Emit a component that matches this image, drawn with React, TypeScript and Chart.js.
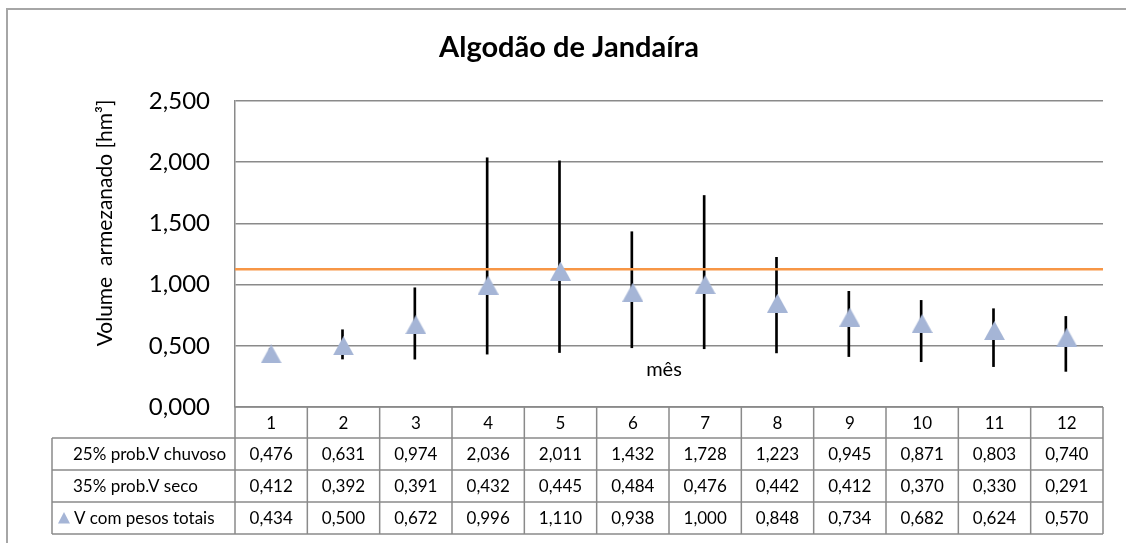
import React, { useEffect, useRef } from "react";
import { Chart, registerables } from "chart.js";

Chart.register(...registerables);

const chartTitle = "Algodão de Jandaíra";
const yAxisTitle = "Volume  armezanado [hm³]";
const xAxisTitle = "mês";
const months = ["1", "2", "3", "4", "5", "6", "7", "8", "9", "10", "11", "12"];
const chuvosoLabel = "25% prob.V chuvoso";
const secoLabel = "35% prob.V seco";
const pesosLabel = "V com pesos totais";
const chuvoso = [0.476, 0.631, 0.974, 2.036, 2.011, 1.432, 1.728, 1.223, 0.945, 0.871, 0.803, 0.74];
const seco = [0.412, 0.392, 0.391, 0.432, 0.445, 0.484, 0.476, 0.442, 0.412, 0.37, 0.33, 0.291];
const pesos = [0.434, 0.5, 0.672, 0.996, 1.11, 0.938, 1.0, 0.848, 0.734, 0.682, 0.624, 0.57];
const referenceLevel = 1.125;
const yMin = 0;
const yMax = 2.5;
const yStep = 0.5;

const FONT = "Lato, 'Open Sans', sans-serif";
const MARKER = "#A5B5D6";
const LINE_GRAY = "#8a8a8a";

const fmt = (v: number) => v.toFixed(3).replace(".", ",");

function makeTriangle(w: number, h: number) {
  const c = document.createElement("canvas");
  c.width = w;
  c.height = h;
  const ctx = c.getContext("2d")!;
  ctx.fillStyle = MARKER;
  ctx.beginPath();
  ctx.moveTo(w / 2, 0);
  ctx.lineTo(w, h);
  ctx.lineTo(0, h);
  ctx.closePath();
  ctx.fill();
  return c;
}

export default function App() {
  const ref = useRef<HTMLCanvasElement | null>(null);

  useEffect(() => {
    if (!ref.current) return;
    const tri = makeTriangle(21, 19);

    const tablePlugin = {
      id: "tablePlugin",
      afterDraw(chart: any) {
        const ctx = chart.ctx as CanvasRenderingContext2D;
        const area = chart.chartArea;
        const xs = chart.scales.x;
        const n = months.length;
        const colW = (area.right - area.left) / n;
        const top = area.bottom;
        const headerH = 31;
        const rowH = 32;
        const labelLeft = 52;
        const rowsTop = top + headerH;
        const bottom = rowsTop + rowH * 3;

        ctx.save();
        // outer border
        ctx.strokeStyle = "#a6a6a6";
        ctx.lineWidth = 2;
        ctx.beginPath();
        ctx.moveTo(7, 700);
        ctx.lineTo(7, 9);
        ctx.lineTo(1300, 9);
        ctx.stroke();

        // table grid
        ctx.strokeStyle = LINE_GRAY;
        ctx.lineWidth = 1.5;
        ctx.beginPath();
        ctx.moveTo(area.left, top);
        ctx.lineTo(area.right, top);
        for (let r = 0; r <= 3; r++) {
          const y = rowsTop + r * rowH;
          ctx.moveTo(labelLeft, y);
          ctx.lineTo(area.right, y);
        }
        for (let i = 0; i <= n; i++) {
          const x = area.left + i * colW;
          ctx.moveTo(x, top);
          ctx.lineTo(x, bottom);
        }
        ctx.moveTo(labelLeft, rowsTop);
        ctx.lineTo(labelLeft, bottom);
        ctx.stroke();

        // texts
        ctx.fillStyle = "#000";
        ctx.font = `17px ${FONT}`;
        ctx.textBaseline = "middle";
        ctx.textAlign = "center";
        months.forEach((m, i) => {
          const cx = xs.getPixelForValue(i);
          ctx.fillText(m, cx, top + headerH / 2 + 1);
          ctx.fillText(fmt(chuvoso[i]), cx, rowsTop + rowH / 2 + 1);
          ctx.fillText(fmt(seco[i]), cx, rowsTop + rowH * 1.5 + 1);
          ctx.fillText(fmt(pesos[i]), cx, rowsTop + rowH * 2.5 + 1);
        });
        ctx.textAlign = "left";
        ctx.fillText(chuvosoLabel, 73, rowsTop + rowH / 2 + 1);
        ctx.fillText(secoLabel, 73, rowsTop + rowH * 1.5 + 1);
        ctx.fillText(pesosLabel, 74, rowsTop + rowH * 2.5 + 1);
        // legend marker
        ctx.fillStyle = MARKER;
        const ly = rowsTop + rowH * 2.5;
        ctx.beginPath();
        ctx.moveTo(64, ly - 6);
        ctx.lineTo(70, ly + 5.5);
        ctx.lineTo(58, ly + 5.5);
        ctx.closePath();
        ctx.fill();

        // chart title
        ctx.fillStyle = "#000";
        ctx.textAlign = "center";
        ctx.textBaseline = "alphabetic";
        ctx.font = `bold 29px ${FONT}`;
        ctx.fillText(chartTitle, 569, 57);

        // x title
        ctx.font = `20px ${FONT}`;
        ctx.fillText(xAxisTitle, 664, 376);

        // y title
        ctx.translate(112, 223);
        ctx.rotate(-Math.PI / 2);
        ctx.font = `21px ${FONT}`;
        ctx.fillText(yAxisTitle, 0, 0);
        ctx.restore();
      },
    };

    const chart = new Chart(ref.current, {
      type: "bar",
      data: {
        labels: months,
        datasets: [
          {
            type: "line",
            label: pesosLabel,
            data: pesos,
            showLine: false,
            pointStyle: tri as any,
            pointRadius: 10,
            order: 1,
          } as any,
          {
            type: "line",
            label: "nível",
            data: [
              { x: 0, y: referenceLevel },
              { x: months.length, y: referenceLevel },
            ],
            xAxisID: "x2",
            borderColor: "#F79646",
            borderWidth: 2.5,
            pointRadius: 0,
            order: 2,
          } as any,
          {
            type: "bar",
            label: "intervalo",
            data: chuvoso.map((h, i) => [seco[i], h]),
            backgroundColor: "#000",
            barThickness: 2,
            borderWidth: 0,
            order: 3,
          } as any,
        ],
      },
      options: {
        responsive: false,
        animation: false,
        devicePixelRatio: 1,
        layout: { padding: { left: 0, top: 101, right: 23, bottom: 136 } },
        plugins: { legend: { display: false }, tooltip: { enabled: false }, title: { display: false } },
        scales: {
          x: { type: "category", display: false, offset: true },
          x2: { type: "linear", display: false, min: 0, max: months.length, offset: false, grid: { offset: false } },
          y: {
            min: yMin,
            max: yMax,
            afterFit: (s: any) => {
              s.width = 235;
            },
            ticks: {
              stepSize: yStep,
              callback: (v: any) => fmt(Number(v)),
              color: "#000",
              font: { size: 24, family: FONT },
              padding: 25,
            },
            grid: { color: LINE_GRAY, lineWidth: 1.5, drawTicks: false },
            border: { display: true, color: LINE_GRAY, width: 1.5 },
          },
        },
      } as any,
      plugins: [tablePlugin],
    });
    return () => chart.destroy();
  }, []);

  return (
    <div style={{ position: "fixed", left: 0, top: 0, width: 1126, height: 543, background: "#fff" }}>
      <canvas ref={ref} width={1126} height={543} style={{ display: "block" }} />
    </div>
  );
}
